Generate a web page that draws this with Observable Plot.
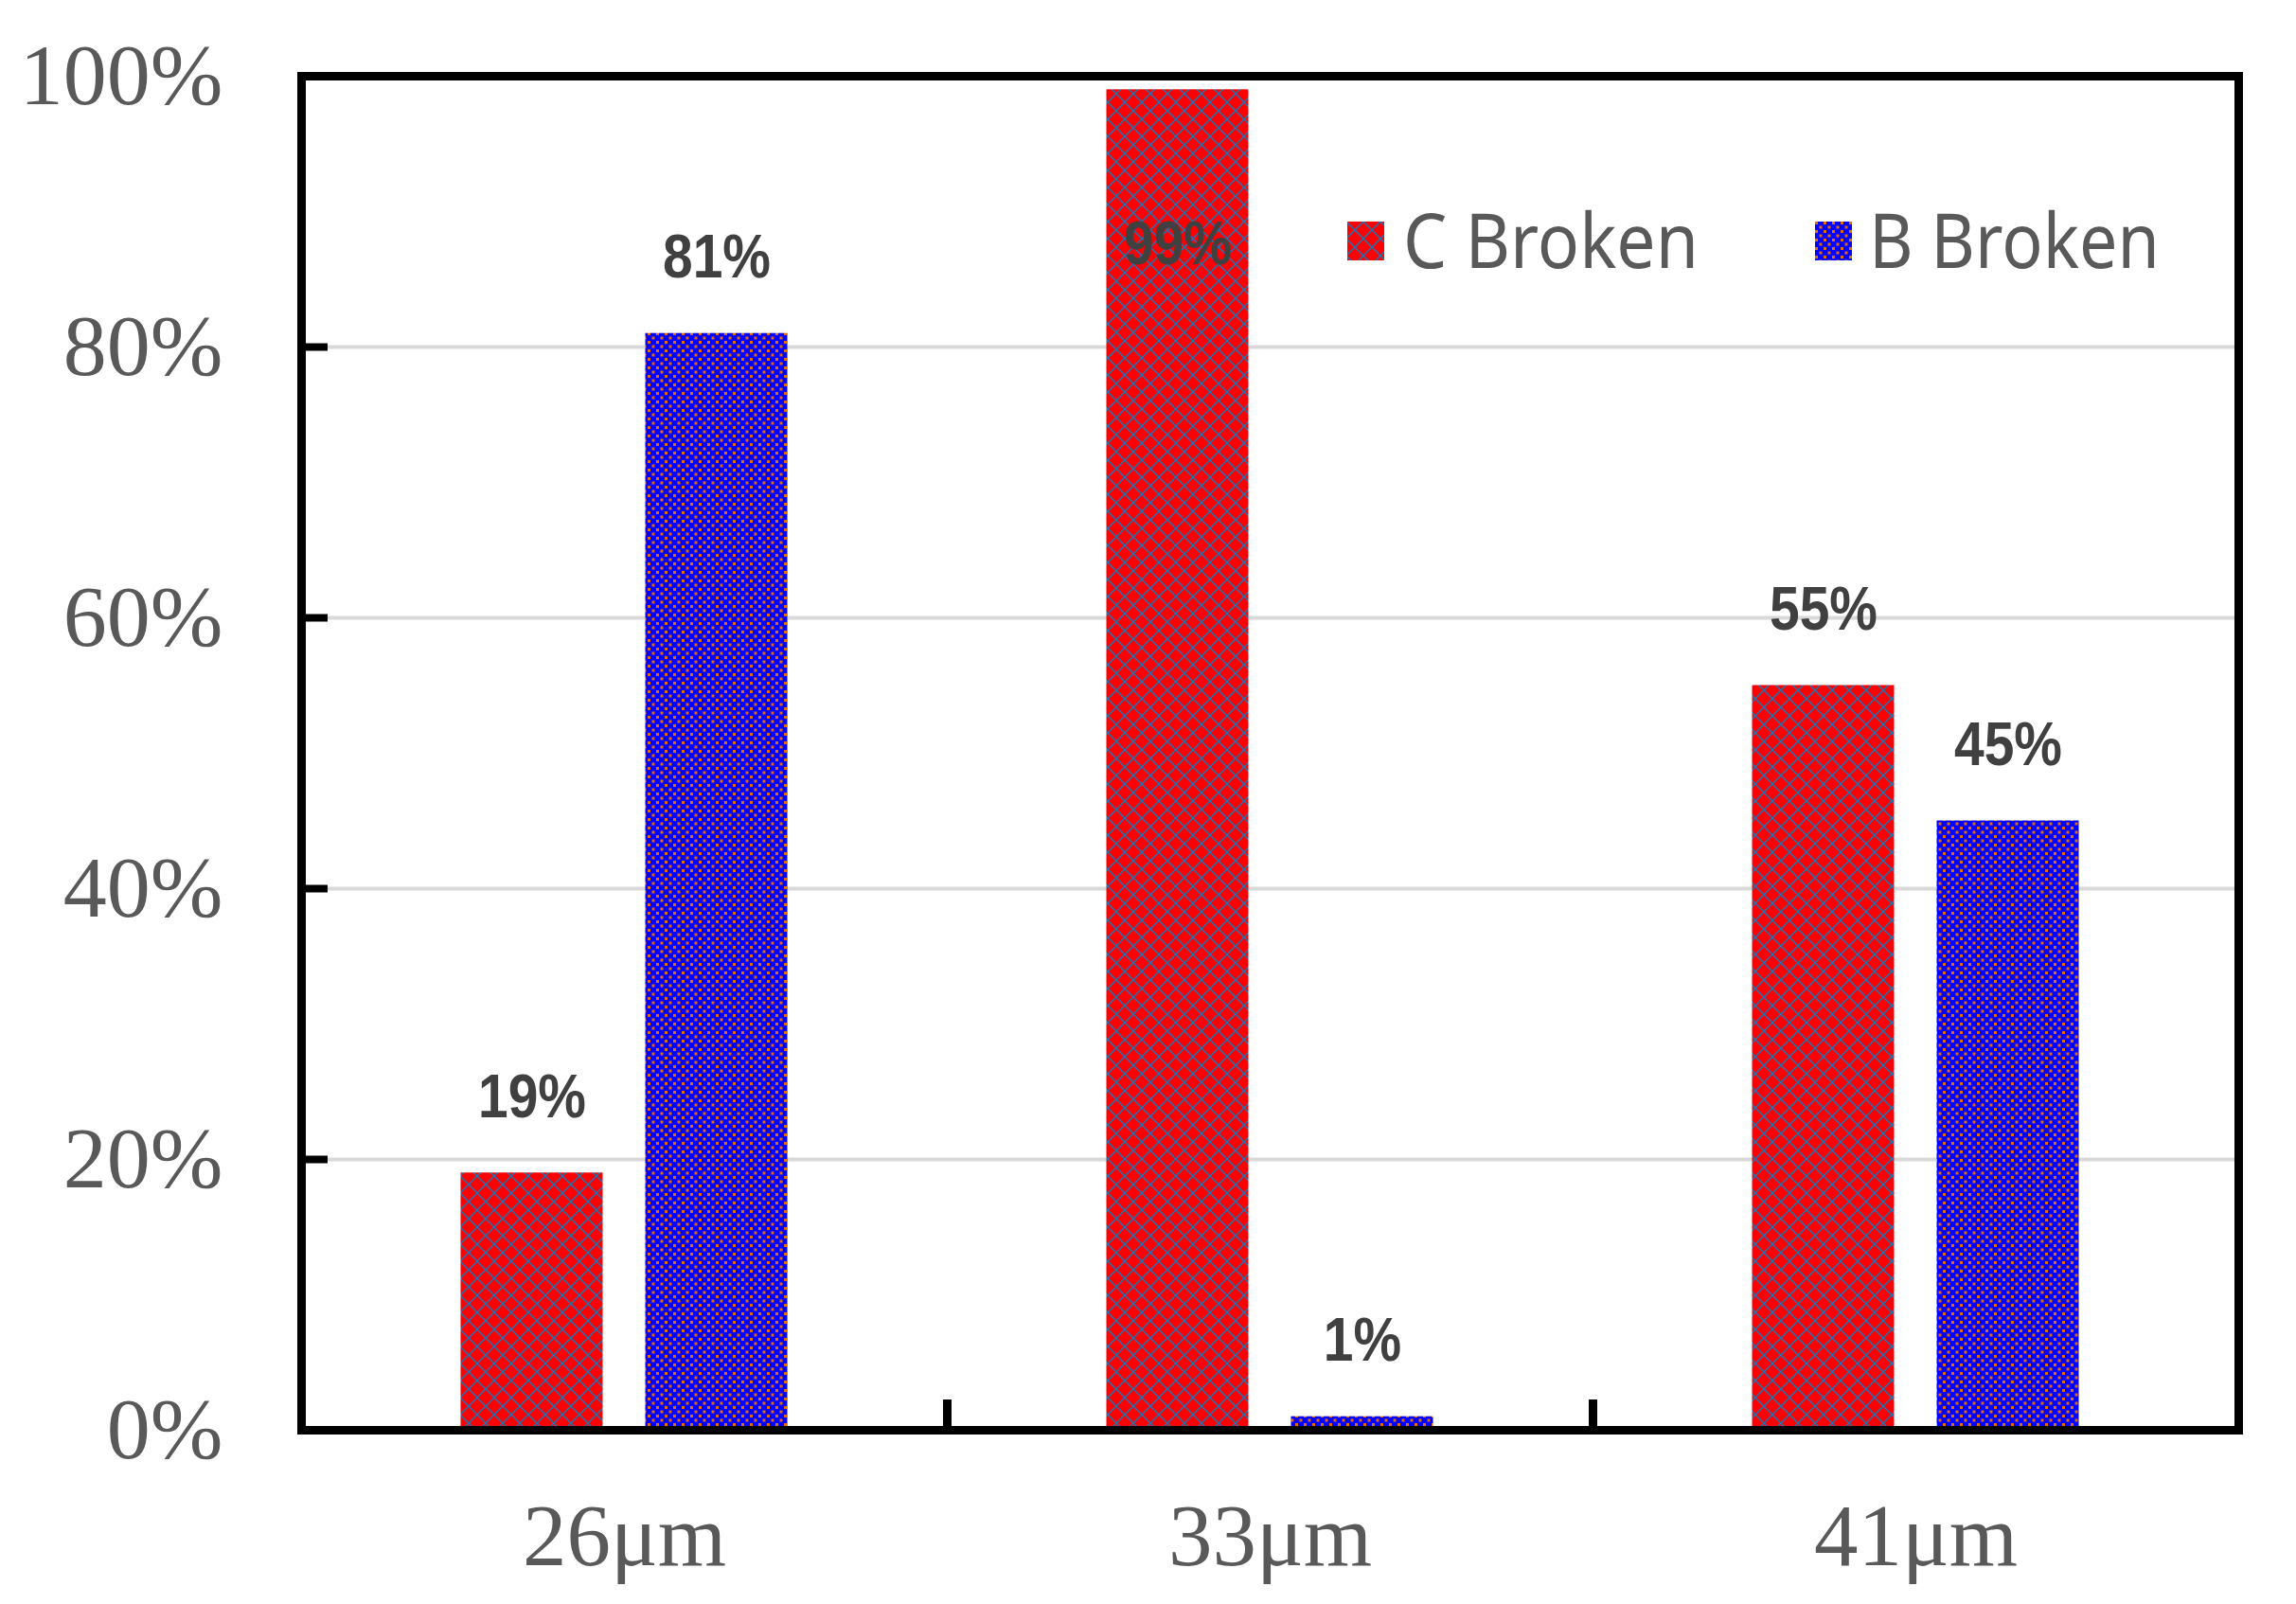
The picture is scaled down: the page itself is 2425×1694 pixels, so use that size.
<!DOCTYPE html>
<html>
<head>
<meta charset="utf-8">
<script src="https://cdn.jsdelivr.net/npm/d3@7"></script>
<script src="https://cdn.jsdelivr.net/npm/@observablehq/plot@0.6"></script>
<style>
  html, body { margin: 0; padding: 0; background: #fff; }
  #chart { width: 2425px; height: 1694px; }
</style>
</head>
<body>
<div id="chart"></div>
<script>
// ---- data ----
const categories = ["26μm", "33μm", "41μm"];
const seriesNames = ["C Broken", "B Broken"];
const cBroken = [19, 99, 55];
const bBroken = [81, 1, 45];
const yTicks = [0, 20, 40, 60, 80, 100];
const innerYTicks = [20, 40, 60, 80];

const cData = categories.map((c, i) => ({category: c, series: seriesNames[0], value: cBroken[i]}));
const bData = categories.map((c, i) => ({category: c, series: seriesNames[1], value: bBroken[i]}));

// ---- layout ----
const W = 2425, H = 1694;
const mL = 318, mR = 61, mT = 80, mB = 184;
const bandW = (W - mL - mR) / categories.length;
const barW = 150, gap = 45;
const innerOff = gap / 2, outerOff = gap / 2 + barW;
const half = bandW / 2;
const labelOffset = barW / 2 + gap / 2;
const labelCap = 82; // label of a bar reaching the top is kept inside the frame

const serif = "'Liberation Serif', 'Times New Roman', serif";
const grey = "#595959";
const labelFont = "'Liberation Sans', Arial, sans-serif";

const chart = Plot.plot({
  width: W,
  height: H,
  marginLeft: mL,
  marginRight: mR,
  marginTop: mT,
  marginBottom: mB,
  style: {background: "#fff", overflow: "visible"},
  x: {type: "band", domain: categories, padding: 0},
  y: {domain: [0, 100]},
  marks: [
    Plot.ruleY(innerYTicks, {stroke: "#D9D9D9", strokeWidth: 4}),
    Plot.barY(cData, {
      x: "category", y: "value", fill: "url(#patC)",
      insetLeft: half - outerOff, insetRight: half + innerOff
    }),
    Plot.barY(bData, {
      x: "category", y: "value", fill: "url(#patB)",
      insetLeft: half + innerOff, insetRight: half - outerOff
    }),
    Plot.text(cData, {
      x: "category", y: d => Math.min(d.value, labelCap), text: d => d.value + "%",
      dx: -labelOffset, dy: -59, lineAnchor: "bottom",
      fontSize: 64, fontWeight: "bold", fontFamily: labelFont, fill: "#404040", className: "vlabel"
    }),
    Plot.text(bData, {
      x: "category", y: d => Math.min(d.value, labelCap), text: d => d.value + "%",
      dx: labelOffset, dy: -59, lineAnchor: "bottom",
      fontSize: 64, fontWeight: "bold", fontFamily: labelFont, fill: "#404040", className: "vlabel"
    }),
    Plot.frame({stroke: "#000", strokeWidth: 9}),
    Plot.axisY({
      ticks: yTicks, tickFormat: d => d + "%", tickSize: 0, tickPadding: 83,
      fontSize: 92, fontFamily: serif, color: grey, label: null
    }),
    Plot.tickY(innerYTicks, {
      y: d => d, x: () => categories[0], insetRight: bandW - 28,
      stroke: "#000", strokeWidth: 8
    }),
    Plot.axisX({
      tickSize: 0, tickPadding: 76, fontSize: 93, fontFamily: serif, color: grey, label: null
    }),
    Plot.ruleX(categories.slice(0, -1), {
      x: d => d, dx: half, y1: 0, y2: 0, insetTop: -32, stroke: "#000", strokeWidth: 9
    })
  ]
});

// ---- patterns ----
const svg = d3.select(chart);
const defs = svg.insert("defs", ":first-child");
const pC = defs.append("pattern").attr("id", "patC").attr("patternUnits", "userSpaceOnUse")
  .attr("width", 18).attr("height", 18);
pC.append("rect").attr("width", 18).attr("height", 18).attr("fill", "#FF0000");
pC.append("path").attr("d", "M0,0L18,18M18,0L0,18").attr("stroke", "#0E7AC0").attr("stroke-width", 1.4)
  .attr("fill", "none");
const pB = defs.append("pattern").attr("id", "patB").attr("patternUnits", "userSpaceOnUse")
  .attr("width", 9).attr("height", 9);
pB.append("rect").attr("width", 9).attr("height", 9).attr("fill", "#0000FF");
pB.append("rect").attr("x", 0).attr("y", 0).attr("width", 3).attr("height", 3).attr("fill", "#E46C0A");
pB.append("rect").attr("x", 4.5).attr("y", 4.5).attr("width", 3).attr("height", 3).attr("fill", "#E46C0A");

// ---- legend (inside the frame, top right) ----
const legend = svg.append("g").attr("class", "legend").attr("text-anchor", "start");
const legendItems = [
  {name: seriesNames[0], fill: "url(#patC)", x: 1423, textX: 1482, textLen: 312},
  {name: seriesNames[1], fill: "url(#patB)", x: 1917, textX: 1974, textLen: 307}
];
legendItems.forEach(it => {
  legend.append("rect").attr("x", it.x).attr("y", 234).attr("width", 39).attr("height", 41).attr("fill", it.fill);
  legend.append("text").attr("x", it.textX).attr("y", 283).attr("text-anchor", "start")
    .attr("font-family", "'Noto Sans', 'Open Sans', sans-serif").attr("font-size", 80)
    .attr("fill", grey).attr("textLength", it.textLen).attr("lengthAdjust", "spacingAndGlyphs")
    .text(it.name);
});

document.getElementById("chart").appendChild(chart);

// value labels: the reference uses a narrow percent sign, so compress them slightly
svg.selectAll(".vlabel text").each(function() {
  const len = this.getComputedTextLength();
  this.setAttribute("textLength", (len * 0.89).toFixed(1));
  this.setAttribute("lengthAdjust", "spacingAndGlyphs");
});
</script>
</body>
</html>
